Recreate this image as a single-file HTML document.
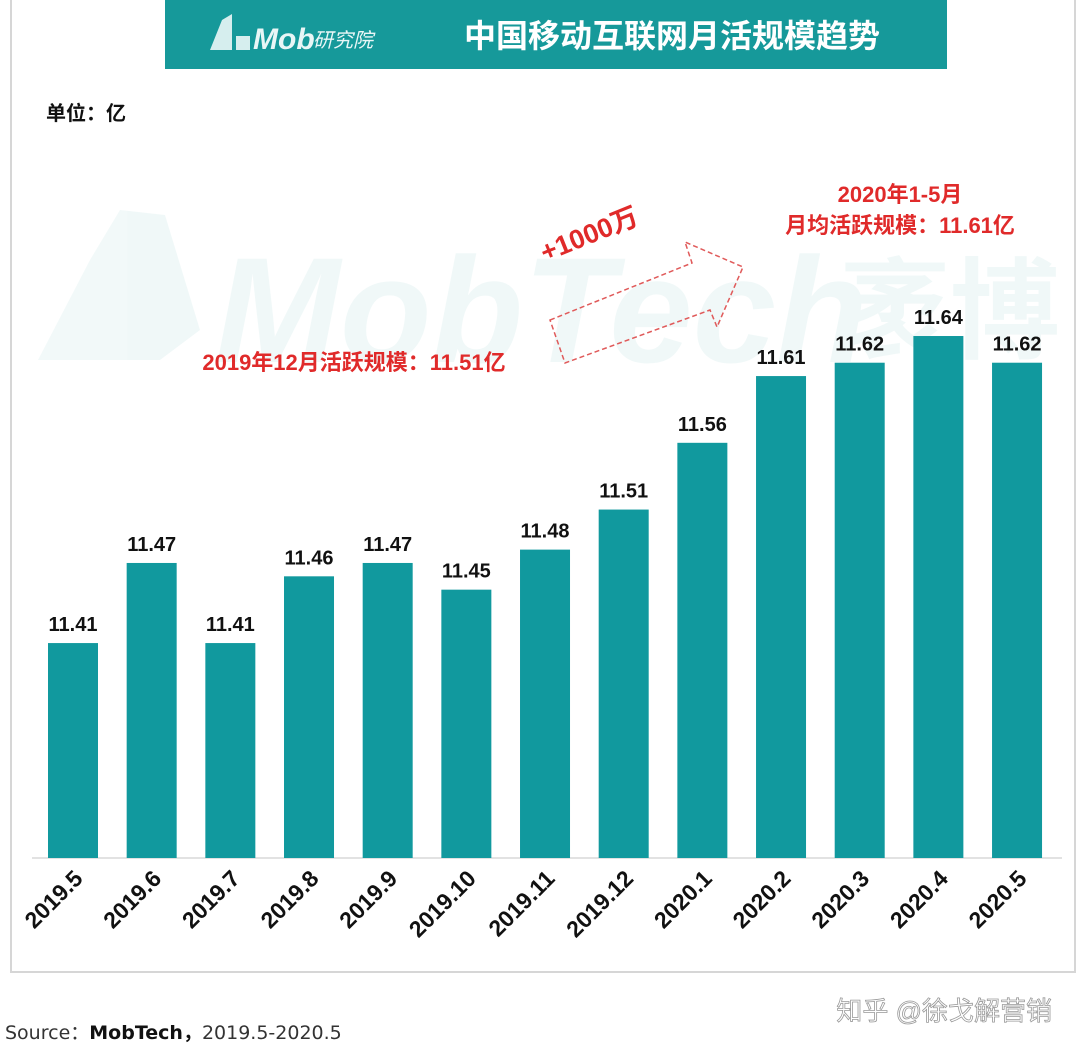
<!DOCTYPE html>
<html><head><meta charset="utf-8"><style>
body{margin:0;background:#fff;width:1080px;height:1054px;overflow:hidden;font-family:"Liberation Sans","Noto Sans CJK SC",sans-serif;}
</style></head><body>
<svg width="1080" height="1054" style="position:absolute;left:0;top:0">
<rect x="11" y="-2" width="1064" height="974" fill="#fff" stroke="#d6d6d6" stroke-width="2"/>
<g opacity="0.06" fill="#1a9a96">
<polygon points="38,360 90,260 120,210 165,215 200,330 160,360"/>
<text x="215" y="362" font-size="150" font-weight="bold" font-style="italic">MobTech</text>
<text x="840" y="350" font-size="110" font-weight="bold">袤博</text>
</g>
<rect x="165" y="0" width="782" height="69" fill="#16999a"/>
<g>
<polygon points="210,50 222,20 232,14 232,50" fill="#d6eeee"/><rect x="236" y="36" width="14" height="14" fill="#d6eeee"/>
<text x="253" y="49" font-size="30" font-style="italic" fill="#e8f6f6" font-weight="bold">Mob</text>
<text x="313" y="47" font-size="20" font-style="italic" fill="#e8f6f6">研究院</text>
</g>
<text x="672" y="47" font-size="32" font-weight="bold" fill="#fff" text-anchor="middle">中国移动互联网月活规模趋势</text>
<text x="46" y="120" font-size="20" font-weight="bold" fill="#111">单位：亿</text>
<text x="354" y="370" font-size="22" font-weight="bold" fill="#e02a2a" text-anchor="middle">2019年12月活跃规模：11.51亿</text>
<text x="900" y="202" font-size="22" font-weight="bold" fill="#e02a2a" text-anchor="middle">2020年1-5月</text>
<text x="900" y="233" font-size="22" font-weight="bold" fill="#e02a2a" text-anchor="middle">月均活跃规模：11.61亿</text>
<polygon points="550,320 692,263 685,242 743,267 717,327 710,310 565,363" fill="none" stroke="#e05a5a" stroke-width="1.5" stroke-dasharray="5,3"/>
<text x="0" y="0" transform="translate(545,262) rotate(-22)" font-size="27" font-weight="bold" fill="#e02a2a">+1000万</text>
<line x1="32" y1="858" x2="1062" y2="858" stroke="#d9d9d9" stroke-width="1.5"/>
<g id="bars"></g>
<text x="5" y="1039" font-size="19" fill="#333" font-family="'DejaVu Sans','Noto Sans CJK SC',sans-serif">Source：<tspan font-weight="bold" fill="#111">MobTech，</tspan>2019.5-2020.5</text>
<text x="1052" y="1020" font-size="26" fill="#fff" stroke="#999" stroke-width="0.8" text-anchor="end">知乎 @徐戈解营销</text>
</svg>
<script>
const categories=["2019.5","2019.6","2019.7","2019.8","2019.9","2019.10","2019.11","2019.12","2020.1","2020.2","2020.3","2020.4","2020.5"];
const values=[11.41,11.47,11.41,11.46,11.47,11.45,11.48,11.51,11.56,11.61,11.62,11.64,11.62];
const valueLabels=["11.41","11.47","11.41","11.46","11.47","11.45","11.48","11.51","11.56","11.61","11.62","11.64","11.62"];
const NS="http://www.w3.org/2000/svg";
const base=858,vMin=11.249,pxPer=1335;
function y(v){return base-(v-vMin)*pxPer;}
function x(i){return 48+i*78.67;}
const g=document.getElementById('bars');
categories.forEach((c,i)=>{
 const r=document.createElementNS(NS,'rect');
 r.setAttribute('x',x(i));r.setAttribute('y',y(values[i]));r.setAttribute('width',50);r.setAttribute('height',base-y(values[i]));r.setAttribute('fill','#11999e');
 
 
 g.appendChild(r);
 const t=document.createElementNS(NS,'text');
 t.setAttribute('x',x(i)+25);t.setAttribute('y',y(values[i])-12);t.setAttribute('font-size','20');t.setAttribute('font-weight','bold');t.setAttribute('text-anchor','middle');t.setAttribute('fill','#111');
 t.textContent=valueLabels[i];
 
 
 g.appendChild(t);
 const l=document.createElementNS(NS,'text');
 l.setAttribute('transform','translate('+(x(i)+36)+',880) rotate(-45)');l.setAttribute('font-size','23');l.setAttribute('font-weight','bold');l.setAttribute('text-anchor','end');l.setAttribute('fill','#111');
 l.textContent=c;
 
 
 g.appendChild(l);
});
</script>
</body></html>
